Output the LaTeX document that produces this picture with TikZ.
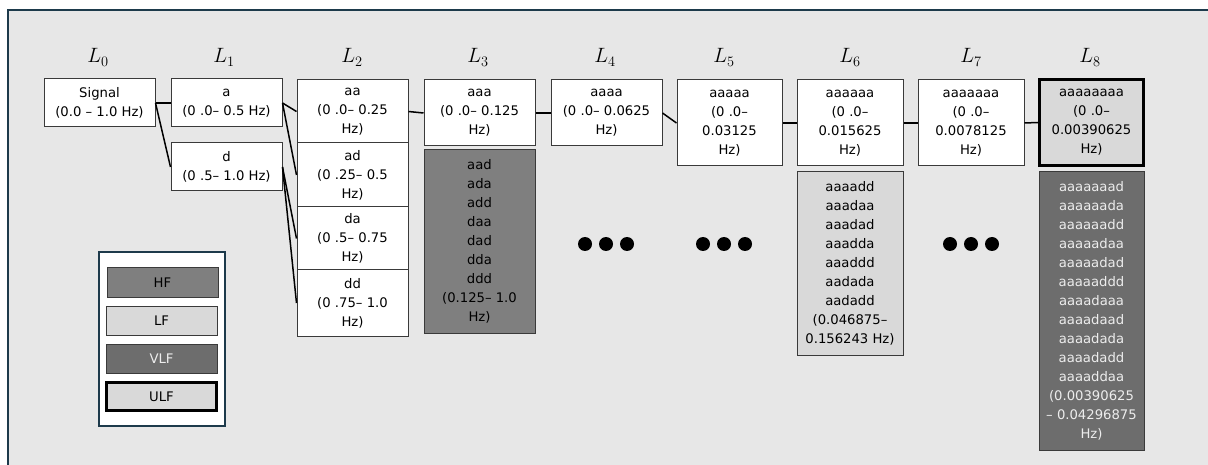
\documentclass[tikz,border=0pt]{standalone}
\usepackage{fontspec}
\newfontfamily\boxfont{DejaVu Sans}
\definecolor{bgcol}{HTML}{E7E7E7}
\definecolor{framecol}{HTML}{1D3A4B}
\definecolor{boxline}{HTML}{3A3A3A}
\definecolor{hfgray}{HTML}{7F7F7F}
\definecolor{lfgray}{HTML}{D9D9D9}
\definecolor{vlfgray}{HTML}{6D6D6D}
\definecolor{vlftext}{HTML}{EDEDED}
\tikzset{
  box/.style={draw=boxline, line width=1pt, fill=white, inner sep=0pt, align=center,
    font=\boxfont\fontsize{13.2}{19}\selectfont},
  hfbox/.style={box, fill=hfgray},
  lfbox/.style={box, fill=lfgray},
  vlfbox/.style={box, fill=vlfgray, text=vlftext},
  ulfbox/.style={box, fill=lfgray, draw=black, line width=3pt},
  lvl/.style={anchor=base, font=\fontsize{20.5}{20.5}\selectfont},
  link/.style={draw=black, line width=1.5pt},
  dot/.style={fill=black},
}
\begin{document}
\begin{tikzpicture}[x=1pt, y=-1pt]
\useasboundingbox (0,0) rectangle (1208,465);
\clip (0,0) rectangle (1208,465);
\fill[white] (0,0) rectangle (1208,465);
\draw[draw=framecol, fill=bgcol, line width=2pt] (8,10) rectangle (1220,480);

% level headings
\node[lvl] (h0) at (98,63) {$L_0$};
\node[lvl] (h1) at (224,63) {$L_1$};
\node[lvl] (h2) at (352,63) {$L_2$};
\node[lvl] (h3) at (478,63) {$L_3$};
\node[lvl] (h4) at (605,63) {$L_4$};
\node[lvl] (h5) at (724,63) {$L_5$};
\node[lvl] (h6) at (850,63) {$L_6$};
\node[lvl] (h7) at (971,63) {$L_7$};
\node[lvl] (h8) at (1090,63) {$L_8$};

% decomposition tree
\node[box, minimum width=111pt, minimum height=48pt] (sig) at (99.5,103) {Signal\\(0.0 – 1.0 Hz)};
\node[box, minimum width=111pt, minimum height=48pt] (a) at (226.5,103) {a\\(0 .0– 0.5 Hz)};
\node[box, minimum width=111pt, minimum height=48pt] (d) at (226.5,167) {d\\(0 .5– 1.0 Hz)};

\node[box, minimum width=111pt, minimum height=63pt] (aa) at (352.5,111.5) {aa\\(0 .0– 0.25\\Hz)};
\node[box, minimum width=111pt, minimum height=64pt] (ad) at (352.5,175) {ad\\(0 .25– 0.5\\Hz)};
\node[box, minimum width=111pt, minimum height=63pt] (da) at (352.5,238.5) {da\\(0 .5– 0.75\\Hz)};
\node[box, minimum width=111pt, minimum height=66pt] (dd) at (352.5,303) {dd\\(0 .75– 1.0\\Hz)};

\node[box, minimum width=111pt, minimum height=66pt] (aaa) at (479.5,113) {aaa\\(0 .0– 0.125\\Hz)};
\node[hfbox, minimum width=111pt, minimum height=183pt] (hf3) at (479.5,241.5)
  {aad\\ada\\add\\daa\\dad\\dda\\ddd\\(0.125– 1.0\\Hz)};

\node[box, minimum width=111pt, minimum height=66pt] (a4) at (606.5,113) {aaaa\\(0 .0– 0.0625\\Hz)};

\node[box, minimum width=105pt, minimum height=86pt] (a5) at (729.5,123) {aaaaa\\(0 .0–\\0.03125\\Hz)};

\node[box, minimum width=106pt, minimum height=86pt] (a6) at (850,123) {aaaaaa\\(0 .0–\\0.015625\\Hz)};
\node[lfbox, minimum width=106pt, minimum height=183pt] (lf6) at (850,263.5)
  {aaaadd\\aaadaa\\aaadad\\aaadda\\aaaddd\\aadada\\aadadd\\(0.046875–\\0.156243 Hz)};

\node[box, minimum width=106pt, minimum height=86pt] (a7) at (971,123) {aaaaaaa\\(0 .0–\\0.0078125\\Hz)};

\node[ulfbox, minimum width=104pt, minimum height=86pt] (a8) at (1091.5,122.5) {aaaaaaaa\\(0 .0–\\0.00390625\\Hz)};
\node[vlfbox, minimum width=105pt, minimum height=278pt] (vlf8) at (1091.5,311)
  {aaaaaaad\\aaaaaada\\aaaaaadd\\aaaaadaa\\aaaaadad\\aaaaaddd\\aaaadaaa\\aaaadaad\\aaaadada\\aaaadadd\\aaaaddaa\\(0.00390625\\– 0.04296875\\Hz)};

% connectors
\draw[link] (sig.east) -- (a.west);
\draw[link] (sig.east) -- (d.west);
\draw[link] (a.east) -- (aa.west);
\draw[link] (a.east) -- (ad.west);
\draw[link] (d.east) -- (da.west);
\draw[link] (d.east) -- (dd.west);
\draw[link] (aa.east) -- (aaa.west);
\draw[link] (aaa.east) -- (a4.west);
\draw[link] (a4.east) -- (a5.west);
\draw[link] (a5.east) -- (a6.west);
\draw[link] (a6.east) -- (a7.west);
\draw[link] (a7.east) -- (a8.west);

% ellipses for omitted levels
\foreach \cx in {585, 606, 627, 703, 724, 745, 950, 971, 992}
  \fill[dot] (\cx,244) circle (7pt);

% legend
\node[draw=framecol, line width=1.3pt, fill=white, minimum width=126pt, minimum height=174pt, inner sep=0pt] (legend) at (162,339) {};
\node[hfbox, minimum width=111pt, minimum height=29pt] (khf) at (162.5,282.5) {HF};
\node[lfbox, minimum width=111pt, minimum height=29pt] (klf) at (161.5,320.5) {LF};
\node[vlfbox, minimum width=111pt, minimum height=29pt] (kvlf) at (161.5,358.5) {VLF};
\node[ulfbox, minimum width=110pt, minimum height=28pt] (kulf) at (161.5,396.5) {ULF};
\end{tikzpicture}
\end{document}
